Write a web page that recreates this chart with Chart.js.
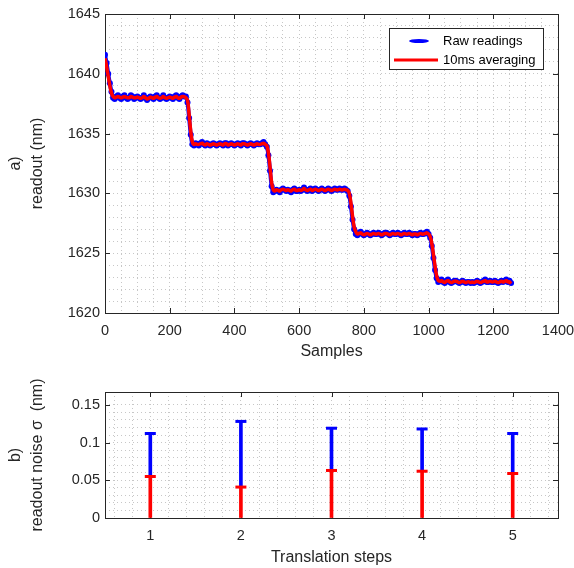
<!DOCTYPE html>
<html>
<head>
<meta charset="utf-8">
<script src="https://cdn.jsdelivr.net/npm/chart.js@4.4.0/dist/chart.umd.min.js"></script>
<style>
  html, body { margin: 0; padding: 0; background: #fff; }
  #wrap { position: relative; width: 574px; height: 568px; }
  #c1 { position: absolute; left: 0; top: 0; }
  #c2 { position: absolute; left: 0; top: 360px; }
</style>
</head>
<body>
<div id="wrap">
  <canvas id="c1" width="574" height="360"></canvas>
  <canvas id="c2" width="574" height="208"></canvas>
</div>
<script>
// ---- a) readout vs samples (one value every 5 samples) ----
const SAMPLE_STEP = 5;

const rawReadings = [
  // 0 - 30
  1641.6, 1640.9, 1640.0, 1639.2, 1638.5, 1638.0, 1637.9,
  // 35 - 250
  1638.1, 1638.2, 1638.0, 1637.9, 1638.1, 1638.2, 1638.0, 1637.9, 1638.0, 1638.2,
  1638.1, 1637.9, 1638.0, 1638.1, 1638.0, 1637.9, 1638.0, 1638.2, 1638.0, 1637.8,
  1638.0, 1638.1, 1638.0, 1637.9, 1638.1, 1638.2, 1638.0, 1637.9, 1638.0, 1638.2,
  1638.0, 1637.9, 1638.0, 1638.1, 1638.0, 1637.9, 1638.1, 1638.2, 1638.0, 1637.9,
  1638.1, 1638.2, 1638.1, 1638.1,
  // 255 - 275
  1637.6, 1636.3, 1634.9, 1634.1, 1634.0,
  // 280 - 500
  1634.2, 1634.1, 1634.0, 1634.2, 1634.3, 1634.1, 1634.0, 1634.2, 1634.1, 1634.0,
  1634.1, 1634.2, 1634.1, 1634.0, 1634.1, 1634.2, 1634.1, 1634.0, 1634.2, 1634.2,
  1634.0, 1634.1, 1634.2, 1634.1, 1634.0, 1634.1, 1634.2, 1634.1, 1634.0, 1634.2,
  1634.2, 1634.1, 1634.0, 1634.1, 1634.2, 1634.1, 1634.0, 1634.1, 1634.2, 1634.1,
  1634.1, 1634.2, 1634.3, 1634.1, 1633.9,
  // 505 - 525
  1633.2, 1631.9, 1630.6, 1630.1, 1630.2,
  // 530 - 750
  1630.3, 1630.2, 1630.1, 1630.3, 1630.4, 1630.3, 1630.2, 1630.3, 1630.2, 1630.1,
  1630.3, 1630.4, 1630.2, 1630.2, 1630.3, 1630.2, 1630.3, 1630.5, 1630.3, 1630.2,
  1630.3, 1630.4, 1630.2, 1630.3, 1630.4, 1630.3, 1630.2, 1630.3, 1630.4, 1630.3,
  1630.2, 1630.3, 1630.4, 1630.3, 1630.2, 1630.3, 1630.4, 1630.3, 1630.3, 1630.4,
  1630.3, 1630.3, 1630.4, 1630.3, 1630.2,
  // 755 - 780
  1629.8, 1628.9, 1627.8, 1627.0, 1626.6, 1626.5,
  // 785 - 1000
  1626.7, 1626.8, 1626.6, 1626.5, 1626.6, 1626.7, 1626.6, 1626.5, 1626.6, 1626.7,
  1626.6, 1626.6, 1626.7, 1626.6, 1626.5, 1626.6, 1626.7, 1626.7, 1626.6, 1626.5,
  1626.6, 1626.7, 1626.6, 1626.6, 1626.7, 1626.6, 1626.5, 1626.6, 1626.7, 1626.6,
  1626.6, 1626.7, 1626.6, 1626.5, 1626.6, 1626.6, 1626.5, 1626.6, 1626.7, 1626.6,
  1626.6, 1626.7, 1626.8, 1626.6,
  // 1005 - 1030
  1626.3, 1625.6, 1624.6, 1623.6, 1622.9, 1622.6,
  // 1035 - 1255
  1622.7, 1622.8, 1622.6, 1622.5, 1622.7, 1622.8, 1622.6, 1622.5, 1622.6, 1622.7,
  1622.7, 1622.6, 1622.5, 1622.6, 1622.7, 1622.6, 1622.5, 1622.6, 1622.6, 1622.5,
  1622.6, 1622.5, 1622.6, 1622.7, 1622.6, 1622.5, 1622.6, 1622.7, 1622.8, 1622.6,
  1622.6, 1622.7, 1622.6, 1622.6, 1622.7, 1622.6, 1622.5, 1622.6, 1622.7, 1622.6,
  1622.7, 1622.8, 1622.6, 1622.7, 1622.5
];

const averaged10ms = [
  1641.3, 1640.6, 1639.8, 1639.0, 1638.4, 1638.1, 1638.0,
  1638.05, 1638.1, 1638.05, 1638.0, 1638.05, 1638.1, 1638.05, 1638.0, 1638.0, 1638.1,
  1638.05, 1638.0, 1638.0, 1638.05, 1638.0, 1637.95, 1638.0, 1638.1, 1638.0, 1637.9,
  1637.95, 1638.05, 1638.0, 1637.95, 1638.05, 1638.1, 1638.0, 1637.95, 1638.0, 1638.1,
  1638.0, 1637.95, 1638.0, 1638.05, 1638.0, 1637.95, 1638.05, 1638.1, 1638.0, 1637.95,
  1638.05, 1638.1, 1638.1, 1638.0,
  1637.8, 1636.6, 1635.2, 1634.3, 1634.1,
  1634.15, 1634.1, 1634.1, 1634.15, 1634.2, 1634.1, 1634.05, 1634.15, 1634.1, 1634.05,
  1634.1, 1634.15, 1634.1, 1634.05, 1634.1, 1634.15, 1634.1, 1634.05, 1634.15, 1634.15,
  1634.05, 1634.1, 1634.15, 1634.1, 1634.05, 1634.1, 1634.15, 1634.1, 1634.05, 1634.15,
  1634.15, 1634.1, 1634.05, 1634.1, 1634.15, 1634.1, 1634.05, 1634.1, 1634.15, 1634.1,
  1634.1, 1634.15, 1634.2, 1634.1, 1634.0,
  1633.4, 1632.2, 1630.9, 1630.3, 1630.2,
  1630.3, 1630.25, 1630.2, 1630.3, 1630.35, 1630.3, 1630.25, 1630.3, 1630.25, 1630.2,
  1630.3, 1630.35, 1630.25, 1630.25, 1630.3, 1630.25, 1630.3, 1630.4, 1630.3, 1630.25,
  1630.3, 1630.35, 1630.25, 1630.3, 1630.35, 1630.3, 1630.25, 1630.3, 1630.35, 1630.3,
  1630.25, 1630.3, 1630.35, 1630.3, 1630.25, 1630.3, 1630.35, 1630.3, 1630.3, 1630.35,
  1630.3, 1630.3, 1630.35, 1630.3, 1630.25,
  1630.0, 1629.2, 1628.1, 1627.2, 1626.8, 1626.6,
  1626.65, 1626.7, 1626.6, 1626.55, 1626.6, 1626.65, 1626.6, 1626.55, 1626.6, 1626.65,
  1626.6, 1626.6, 1626.65, 1626.6, 1626.55, 1626.6, 1626.65, 1626.65, 1626.6, 1626.55,
  1626.6, 1626.65, 1626.6, 1626.6, 1626.65, 1626.6, 1626.55, 1626.6, 1626.65, 1626.6,
  1626.6, 1626.65, 1626.6, 1626.55, 1626.6, 1626.6, 1626.55, 1626.6, 1626.65, 1626.6,
  1626.6, 1626.65, 1626.7, 1626.6,
  1626.4, 1625.8, 1624.9, 1623.9, 1623.1, 1622.7,
  1622.65, 1622.7, 1622.6, 1622.55, 1622.65, 1622.7, 1622.6, 1622.55, 1622.6, 1622.65,
  1622.65, 1622.6, 1622.55, 1622.6, 1622.65, 1622.6, 1622.55, 1622.6, 1622.6, 1622.55,
  1622.6, 1622.55, 1622.6, 1622.65, 1622.6, 1622.55, 1622.6, 1622.65, 1622.7, 1622.6,
  1622.6, 1622.65, 1622.6, 1622.6, 1622.65, 1622.6, 1622.55, 1622.6, 1622.65, 1622.6,
  1622.65, 1622.7, 1622.6, 1622.6, 1622.45
];

const samplesMajorTicks = [0, 200, 400, 600, 800, 1000, 1200, 1400];
const readoutMajorTicks = [1620, 1625, 1630, 1635, 1640, 1645];

// ---- b) readout noise per translation step ----
const steps = [1, 2, 3, 4, 5];
const noiseRaw = [0.112, 0.128, 0.119, 0.118, 0.112];
const noiseAveraged = [0.055, 0.041, 0.063, 0.062, 0.059];
const noiseMajorTicks = [0, 0.05, 0.1, 0.15];

const FONT = '"Liberation Sans", Arial, Helvetica, sans-serif';
const INK = '#262626';
const GRID = 'rgba(0,0,0,0.22)';

// axes box + inward tick marks, matlab style
const framePlugin = {
  id: 'frame',
  beforeDatasetsDraw(chart, args, opts) {
    const { ctx, chartArea: a, scales: { x, y } } = chart;
    const L = 5;
    ctx.save();
    ctx.strokeStyle = INK;
    ctx.lineWidth = 1;
    ctx.beginPath();
    opts.xTicks.forEach(v => {
      const px = Math.round(x.getPixelForValue(v)) + 0.5;
      ctx.moveTo(px, a.bottom); ctx.lineTo(px, a.bottom - L);
      ctx.moveTo(px, a.top); ctx.lineTo(px, a.top + L);
    });
    opts.yTicks.forEach(v => {
      const py = Math.round(y.getPixelForValue(v)) + 0.5;
      ctx.moveTo(a.left, py); ctx.lineTo(a.left + L, py);
      ctx.moveTo(a.right, py); ctx.lineTo(a.right - L, py);
    });
    ctx.stroke();
    ctx.strokeRect(Math.round(a.left) + 0.5, Math.round(a.top) + 0.5,
      Math.round(a.right - a.left), Math.round(a.bottom - a.top));
    ctx.restore();
  }
};

// boxed legend inside the top-right corner
const legendPlugin = {
  id: 'boxLegend',
  afterDraw(chart) {
    const { ctx, chartArea: a } = chart;
    const bx = Math.round(a.right) - 169, by = Math.round(a.top) + 14, bw = 154, bh = 41;
    ctx.save();
    ctx.fillStyle = '#fff';
    ctx.fillRect(bx, by, bw, bh);
    ctx.strokeStyle = INK;
    ctx.lineWidth = 1;
    ctx.strokeRect(bx + 0.5, by + 0.5, bw, bh);
    ctx.fillStyle = '#0000ff';
    ctx.beginPath();
    ctx.ellipse(bx + 30, by + 13, 10, 2, 0, 0, Math.PI * 2);
    ctx.fill();
    ctx.strokeStyle = '#ff0000';
    ctx.lineWidth = 3;
    ctx.beginPath();
    ctx.moveTo(bx + 5, by + 32); ctx.lineTo(bx + 49, by + 32);
    ctx.stroke();
    ctx.fillStyle = '#000';
    ctx.font = '13px ' + FONT;
    ctx.textBaseline = 'middle';
    ctx.fillText('Raw readings', bx + 54, by + 13);
    ctx.fillText('10ms averaging', bx + 54, by + 32);
    ctx.restore();
  }
};

function gridOpts() {
  return { color: GRID, lineWidth: 1, drawTicks: false };
}

function titleOpts(text, lh) {
  return { display: true, text: text, color: INK,
    font: { family: FONT, size: 16, lineHeight: lh || 1.35 }, padding: { top: 5, bottom: 0 } };
}

const tickFont = { family: FONT, size: 14.5 };

// ---- chart a ----
const toXY = arr => arr.map((v, i) => ({ x: i * SAMPLE_STEP, y: v }));

new Chart(document.getElementById('c1'), {
  type: 'line',
  data: {
    datasets: [
      {
        label: '10ms averaging',
        data: toXY(averaged10ms),
        borderColor: '#ff0000',
        borderWidth: 3.5,
        pointRadius: 0,
        tension: 0.4
      },
      {
        label: 'Raw readings',
        data: toXY(rawReadings),
        borderColor: '#0000ff',
        borderWidth: 4,
        pointRadius: 3,
        pointBorderWidth: 0,
        pointBackgroundColor: '#0000ff',
        tension: 0.3
      }
    ]
  },
  options: {
    responsive: false,
    animation: false,
    events: [],
    layout: { padding: { top: 14, right: 16, left: 0, bottom: 0 } },
    plugins: { legend: { display: false }, tooltip: { enabled: false },
      frame: { xTicks: samplesMajorTicks, yTicks: readoutMajorTicks } },
    scales: {
      x: {
        type: 'linear', min: 0, max: 1400,
        grid: gridOpts(),
        border: { display: false, dash: [1, 3] },
        ticks: { stepSize: 50, autoSkip: false, maxRotation: 0, padding: 9, color: INK, font: tickFont,
          callback: v => (v % 200 === 0 ? String(v) : '') },
        title: titleOpts('Samples', 1),
        afterFit: s => { s.height = 47; s.paddingLeft = 0; s.paddingRight = 0; }
      },
      y: {
        min: 1620, max: 1645,
        grid: gridOpts(),
        border: { display: false, dash: [1, 3] },
        ticks: { stepSize: 1, autoSkip: false, padding: 5, color: INK, font: tickFont,
          callback: v => (v % 5 === 0 ? String(v) : '') },
        title: titleOpts(['a)', 'readout (nm)']),
        afterFit: s => { s.width = 105; }
      }
    }
  },
  plugins: [framePlugin, legendPlugin]
});

// ---- chart b ----
new Chart(document.getElementById('c2'), {
  type: 'bar',
  data: {
    datasets: [
      {
        type: 'scatter',
        data: steps.map((s, i) => ({ x: s, y: noiseAveraged[i] })),
        pointStyle: 'line', pointRadius: 5.5, borderWidth: 3, borderColor: '#ff0000'
      },
      {
        type: 'scatter',
        data: steps.map((s, i) => ({ x: s, y: noiseRaw[i] })),
        pointStyle: 'line', pointRadius: 5.5, borderWidth: 3, borderColor: '#0000ff'
      },
      {
        type: 'bar',
        data: steps.map((s, i) => ({ x: s, y: [0, noiseAveraged[i]] })),
        backgroundColor: '#ff0000', barThickness: 3, grouped: false, borderWidth: 0
      },
      {
        type: 'bar',
        data: steps.map((s, i) => ({ x: s, y: [noiseAveraged[i], noiseRaw[i]] })),
        backgroundColor: '#0000ff', barThickness: 3, grouped: false, borderWidth: 0
      }
    ]
  },
  options: {
    responsive: false,
    animation: false,
    events: [],
    layout: { padding: { top: 32, right: 16, left: 0, bottom: 0 } },
    plugins: { legend: { display: false }, tooltip: { enabled: false },
      frame: { xTicks: steps, yTicks: noiseMajorTicks } },
    scales: {
      x: {
        type: 'linear', min: 0.5, max: 5.5, offset: false,
        grid: Object.assign(gridOpts(), {
          offset: false,
          // minor grid every 0.2
          color: c => (Math.round(c.tick.value * 10) % 2 === 0 ? GRID : 'rgba(0,0,0,0)')
        }),
        border: { display: false, dash: [1, 3] },
        ticks: { stepSize: 0.1, autoSkip: false, maxRotation: 0, padding: 9, color: INK, font: tickFont,
          callback: v => (Math.abs(v - Math.round(v)) < 1e-6 ? String(Math.round(v)) : '') },
        title: titleOpts('Translation steps'),
        afterFit: s => { s.height = 50; s.paddingLeft = 0; s.paddingRight = 0; }
      },
      y: {
        type: 'linear', min: 0, max: 0.167,
        grid: gridOpts(),
        border: { display: false, dash: [1, 3] },
        ticks: { stepSize: 0.01, autoSkip: false, padding: 5, color: INK, font: tickFont,
          callback: v => {
            const h = Math.round(v * 100);
            if (h % 5 !== 0) return '';
            return h === 0 ? '0' : String(+(h / 100).toFixed(2));
          } },
        title: titleOpts(['b)', 'readout noise σ  (nm)']),
        afterFit: s => { s.width = 105; }
      }
    }
  },
  plugins: [framePlugin]
});
</script>
</body>
</html>
